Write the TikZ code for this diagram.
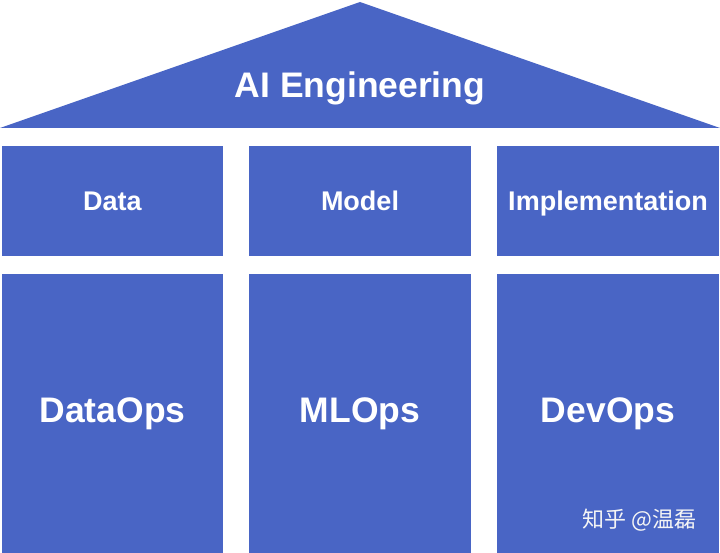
\documentclass[tikz,border=0pt]{standalone}
\usepackage{xcolor}
\usepackage{tikz}
\usepackage{fontspec}
\setmainfont{Liberation Sans}
\newfontfamily\cjkfont{Noto Sans CJK SC}
\definecolor{blu}{HTML}{4965C5}
\tikzset{
  blocco/.style={fill=blu, draw=none, text=white, inner sep=0pt, text depth=0pt},
  piano/.style={blocco, minimum height=110pt, text height=19.3pt,
    font=\fontsize{27}{30}\selectfont\bfseries},
  colonna/.style={blocco, minimum height=279pt, text height=25.4pt, text depth=7pt,
    font=\fontsize{35.5}{40}\selectfont\bfseries},
  titolo/.style={text=white, inner sep=0pt, text height=25.4pt, text depth=0pt,
    font=\fontsize{35.5}{40}\selectfont\bfseries},
}
\begin{document}
\begin{tikzpicture}[x=1pt, y=-1pt]
        \useasboundingbox (0,0) rectangle (720,553);
        % Tetto
        \coordinate (cima) at (360,2);
        \coordinate (sx) at (0,128);
        \coordinate (dx) at (720,128);
        \fill[blu] (sx) -- (cima) -- (dx) -- cycle;
        \node[titolo] (tetto) at (360,85) {AI Engineering};
        % Riga superiore
        \node[piano, minimum width=221pt] (data) at (112.5,201) {Data};
        \node[piano, minimum width=222pt] (model) at (360,201) {Model};
        \node[piano, minimum width=222pt] (impl) at (608,201) {Implementation};
        % Colonne
        \node[colonna, minimum width=221pt] (dataops) at (112.5,413.5) {DataOps};
        \node[colonna, minimum width=222pt] (mlops) at (360,413.5) {MLOps};
        \node[colonna, minimum width=222pt] (devops) at (608,413.5) {DevOps};
        % Filigrana
        \node[text=white!92!gray, anchor=east, font=\cjkfont\fontsize{22}{24}\selectfont]
            (firma) at (700,520) {知乎 @温磊};
    \end{tikzpicture}
\end{document}
